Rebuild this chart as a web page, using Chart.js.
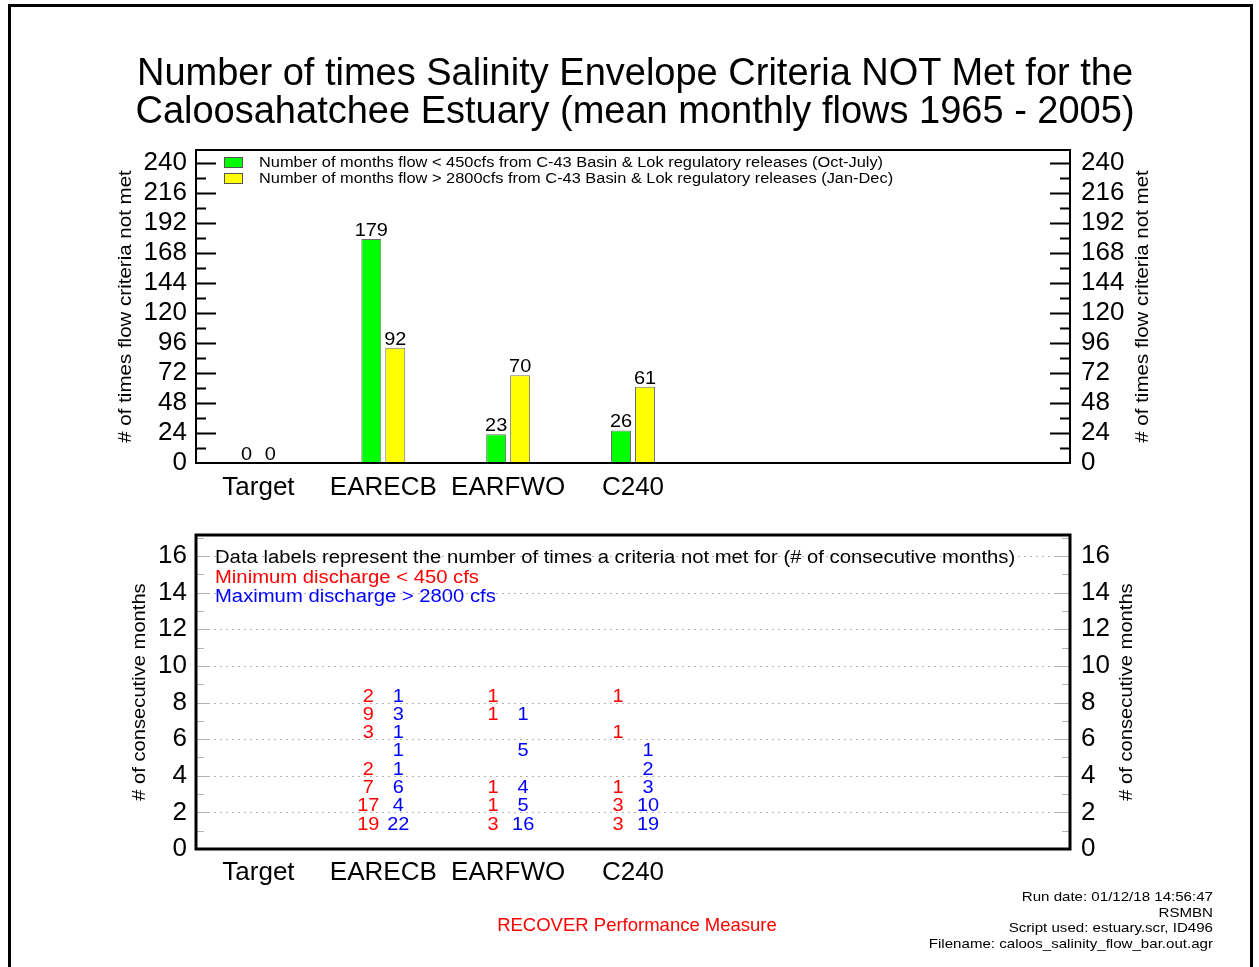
<!DOCTYPE html>
<html>
<head>
<meta charset="utf-8">
<script src="https://cdn.jsdelivr.net/npm/chart.js@4/dist/chart.umd.min.js"></script>
<style>
body { margin: 0; background: #fff; font-family: "Liberation Sans", Arial, sans-serif; }
#page { position: relative; width: 1259px; height: 967px; overflow: hidden; background: #fff; }
#frame { position: absolute; left: 8px; top: 4px; width: 1245px; height: 990px; border: 3px solid #000; box-sizing: border-box; }
canvas { position: absolute; left: 0; top: 0; }
.txt { position: absolute; white-space: nowrap; }
</style>
</head>
<body>
<div id="page">
  <div id="frame"></div>
  <canvas id="GraficoTopo" width="1259" height="967"></canvas>
  <canvas id="GraficoBase" width="1259" height="967"></canvas>
  <div class="txt" style="left:0;width:1270px;top:53px;text-align:center;font-size:38px;line-height:38px;">
    Number of times Salinity Envelope Criteria NOT Met for the<br>Caloosahatchee Estuary (mean monthly flows 1965 - 2005)
  </div>
  <div class="txt" style="left:0;width:1274px;top:915px;text-align:center;font-size:18.5px;line-height:20px;color:#ff0000;">RECOVER Performance Measure</div>
  <div class="txt" style="right:46px;top:889px;text-align:right;font-size:13px;line-height:15.5px;transform:scaleX(1.16);transform-origin:right top;">
    Run date: 01/12/18 14:56:47<br>RSMBN<br>Script used: estuary.scr, ID496<br>Filename: caloos_salinity_flow_bar.out.agr
  </div>
</div>
<script>
// categorias
var estacoes = ['Target', 'EARECB', 'EARFWO', 'C240', '', '', ''];

// painel de cima: numero de meses
var mesesAbaixo450 = [0, 179, 23, 26];
var mesesAcima2800 = [0, 92, 70, 61];
var ticksTopo = [0, 24, 48, 72, 96, 120, 144, 168, 192, 216, 240];
var legendaAbaixo = 'Number of months flow < 450cfs from C-43 Basin & Lok regulatory releases (Oct-July)';
var legendaAcima = 'Number of months flow > 2800cfs from C-43 Basin & Lok regulatory releases (Jan-Dec)';

// painel de baixo: vezes por numero de meses consecutivos
var mesesConsecutivos = [1, 2, 3, 4, 5, 6, 7, 8];
var earecbMin = [19, 17, 7, 2, null, 3, 9, 2];
var earecbMax = [22, 4, 6, 1, 1, 1, 3, 1];
var earfwoMin = [3, 1, 1, null, null, null, 1, 1];
var earfwoMax = [16, 5, 4, null, 5, null, 1, null];
var c240Min = [3, 3, 1, null, null, 1, null, 1];
var c240Max = [19, 10, 3, 2, 1, null, null, null];
var ticksBase = [0, 2, 4, 6, 8, 10, 12, 14, 16];

var fonte = '"Liberation Sans", Arial, sans-serif';

function pontos(estacao, vezes) {
    var lista = [];
    for (var i = 0; i < vezes.length; i++) {
        if (vezes[i] != null) lista.push({ x: estacao, y: mesesConsecutivos[i], n: vezes[i] });
    }
    return lista;
}

// texto um pouco esticado na horizontal, como no original
function texto(ctx, s, x, y, esticar, girar) {
    ctx.save();
    ctx.translate(x, y);
    if (girar) ctx.rotate(-Math.PI / 2);
    ctx.scale(esticar, 1);
    ctx.fillText(s, 0, 0);
    ctx.restore();
}

var enfeitesTopo = {
    id: 'enfeitesTopo',
    afterDraw: function (chart) {
        var ctx = chart.ctx, a = chart.chartArea, y = chart.scales.y;
        ctx.save();
        // caixa
        ctx.strokeStyle = '#000';
        ctx.lineWidth = 2;
        ctx.strokeRect(a.left, a.top, a.right - a.left, a.bottom - a.top);
        // ticks para dentro
        for (var v = 12; v <= 240; v += 12) {
            var py = Math.round(y.getPixelForValue(v)) + 0.5;
            var len = (v % 24 === 0) ? 20 : 10;
            ctx.beginPath();
            ctx.moveTo(a.left, py); ctx.lineTo(a.left + len, py);
            ctx.moveTo(a.right, py); ctx.lineTo(a.right - len, py);
            ctx.stroke();
        }
        // titulos dos eixos
        ctx.fillStyle = '#000';
        ctx.font = '18px ' + fonte;
        ctx.textAlign = 'center';
        ctx.textBaseline = 'middle';
        texto(ctx, '# of times flow criteria not met', 126, (a.top + a.bottom) / 2, 1.14, true);
        texto(ctx, '# of times flow criteria not met', 1143, (a.top + a.bottom) / 2, 1.14, true);
        // legenda
        ctx.font = '14px ' + fonte;
        ctx.textAlign = 'left';
        var itens = [[legendaAbaixo, '#00ff00'], [legendaAcima, '#ffff00']];
        for (var i = 0; i < itens.length; i++) {
            var ly = 157 + i * 16;
            ctx.fillStyle = itens[i][1];
            ctx.fillRect(224, ly, 19, 11);
            ctx.lineWidth = 1;
            ctx.strokeStyle = '#555';
            ctx.strokeRect(224.5, ly + 0.5, 18, 10);
            ctx.fillStyle = '#000';
            texto(ctx, itens[i][0], 259, ly + 6, 1.17, false);
        }
        // rotulos das barras
        ctx.font = '19px ' + fonte;
        ctx.textAlign = 'center';
        ctx.textBaseline = 'alphabetic';
        chart.data.datasets.forEach(function (ds, d) {
            chart.getDatasetMeta(d).data.forEach(function (barra, k) {
                if (ds.data[k] == null) return;
                texto(ctx, String(ds.data[k]), barra.x, barra.y - 3, 1.05, false);
            });
        });
        ctx.restore();
    }
};

function eixoY(lado, largura, max, ticks) {
    return {
        position: lado,
        min: 0, max: max,
        grid: { display: false, drawTicks: false }, border: { display: false },
        ticks: { color: '#000', font: { family: fonte, size: 26 }, padding: lado === 'left' ? 9 : 11, autoSkip: false },
        afterBuildTicks: function (s) { s.ticks = ticks.map(function (v) { return { value: v }; }); },
        afterFit: function (s) { s.width = largura; }
    };
}

var grafico = new Chart(document.getElementById('GraficoTopo').getContext('2d'), {
    type: 'bar',
    data: {
        labels: estacoes,
        datasets: [{
            label: legendaAbaixo,
            data: mesesAbaixo450,
            backgroundColor: '#00ff00',
            borderColor: '#6e6e6e',
            borderWidth: function (c) { return c.raw ? 1 : 0; },
            categoryPercentage: 0.384,
            barPercentage: 0.833
        }, {
            label: legendaAcima,
            data: mesesAcima2800,
            backgroundColor: '#ffff00',
            borderColor: '#6e6e6e',
            borderWidth: function (c) { return c.raw ? 1 : 0; },
            categoryPercentage: 0.384,
            barPercentage: 0.833
        }]
    },
    options: {
        responsive: false,
        animation: false,
        layout: { padding: { top: 150, bottom: 457, left: 0, right: 0 } },
        plugins: { legend: { display: false }, tooltip: { enabled: false } },
        scales: {
            x: {
                grid: { display: false }, border: { display: false },
                ticks: { color: '#000', font: { family: fonte, size: 26 }, padding: 1, autoSkip: false, maxRotation: 0 },
                afterFit: function (s) { s.height = 47; }
            },
            y: eixoY('left', 196, 250, ticksTopo),
            y2: eixoY('right', 189, 250, ticksTopo)
        }
    },
    plugins: [enfeitesTopo]
});

var enfeitesBase = {
    id: 'enfeitesBase',
    beforeDatasetsDraw: function (chart) {
        var ctx = chart.ctx, a = chart.chartArea, y = chart.scales.y;
        ctx.save();
        // grade pontilhada
        ctx.strokeStyle = '#b4b4b4';
        ctx.lineWidth = 1;
        ctx.setLineDash([2, 4]);
        for (var v = 2; v <= 16; v += 2) {
            var py = Math.round(y.getPixelForValue(v)) + 0.5;
            ctx.beginPath();
            ctx.moveTo(a.left, py); ctx.lineTo(a.right, py);
            ctx.stroke();
        }
        ctx.setLineDash([]);
        // ticks menores
        for (var m = 1; m <= 17; m += 1) {
            var my = Math.round(y.getPixelForValue(m)) + 0.5;
            var len = (m % 2 === 0) ? 14 : 8;
            ctx.beginPath();
            ctx.moveTo(a.left, my); ctx.lineTo(a.left + len, my);
            ctx.moveTo(a.right, my); ctx.lineTo(a.right - len, my);
            ctx.stroke();
        }
        ctx.restore();
    },
    afterDraw: function (chart) {
        var ctx = chart.ctx, a = chart.chartArea;
        ctx.save();
        ctx.strokeStyle = '#000';
        ctx.lineWidth = 3;
        ctx.strokeRect(a.left, a.top, a.right - a.left, a.bottom - a.top);
        ctx.fillStyle = '#000';
        ctx.font = '18px ' + fonte;
        ctx.textAlign = 'center';
        ctx.textBaseline = 'middle';
        texto(ctx, '# of consecutive months', 140, (a.top + a.bottom) / 2, 1.12, true);
        texto(ctx, '# of consecutive months', 1127, (a.top + a.bottom) / 2, 1.12, true);
        // notas
        ctx.textAlign = 'left';
        texto(ctx, 'Data labels represent the number of times a criteria not met for (# of consecutive months)', 215, 558, 1.125, false);
        ctx.fillStyle = '#ff0000';
        texto(ctx, 'Minimum discharge < 450 cfs', 215, 578, 1.125, false);
        ctx.fillStyle = '#0000ff';
        texto(ctx, 'Maximum discharge > 2800 cfs', 215, 597, 1.125, false);
        // rotulos de dados
        ctx.font = '19px ' + fonte;
        ctx.textAlign = 'center';
        ctx.textBaseline = 'alphabetic';
        chart.data.datasets.forEach(function (ds, d) {
            ctx.fillStyle = ds.corTexto;
            chart.getDatasetMeta(d).data.forEach(function (p, k) {
                texto(ctx, String(ds.data[k].n), p.x + ds.desvio, p.y - 1, 1.05, false);
            });
        });
        ctx.restore();
    }
};

var graficoBase = new Chart(document.getElementById('GraficoBase').getContext('2d'), {
    type: 'line',
    data: {
        labels: estacoes,
        datasets: [{
            label: 'Minimum discharge < 450 cfs',
            data: pontos('EARECB', earecbMin).concat(pontos('EARFWO', earfwoMin), pontos('C240', c240Min)),
            showLine: false, pointRadius: 0, corTexto: '#ff0000', desvio: -15
        }, {
            label: 'Maximum discharge > 2800 cfs',
            data: pontos('EARECB', earecbMax).concat(pontos('EARFWO', earfwoMax), pontos('C240', c240Max)),
            showLine: false, pointRadius: 0, corTexto: '#0000ff', desvio: 15
        }]
    },
    options: {
        responsive: false,
        animation: false,
        layout: { padding: { top: 535, bottom: 71, left: 0, right: 0 } },
        plugins: { legend: { display: false }, tooltip: { enabled: false } },
        scales: {
            x: {
                offset: true,
                grid: { display: false }, border: { display: false },
                ticks: { color: '#000', font: { family: fonte, size: 26 }, padding: 0, autoSkip: false, maxRotation: 0 },
                afterFit: function (s) { s.height = 47; }
            },
            y: eixoY('left', 196, 17.15, ticksBase),
            y2: eixoY('right', 189, 17.15, ticksBase)
        }
    },
    plugins: [enfeitesBase]
});
</script>
</body>
</html>
